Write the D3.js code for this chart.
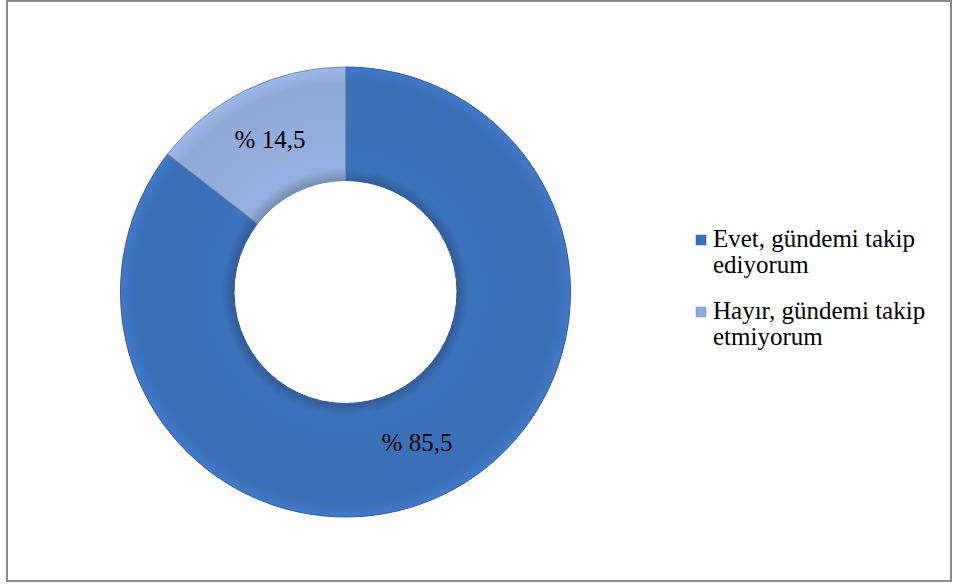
<!DOCTYPE html>
<html><head><meta charset="utf-8">
<script src="https://cdn.jsdelivr.net/npm/d3@7"></script>
<style>body{margin:0;background:#fff}svg{display:block}</style>
</head><body>
<script>
const categories = ["Evet, gündemi takip ediyorum", "Hayır, gündemi takip etmiyorum"];
const legendLines = [["Evet, gündemi takip", "ediyorum"], ["Hayır, gündemi takip", "etmiyorum"]];
const values = [85.5, 14.5];
const labels = ["% 85,5", "% 14,5"];
const colors = ["#3b6fb6", "#8faad6"];

const W = 956, H = 584;
const svg = d3.select("body").append("svg").attr("width", W).attr("height", H);
svg.append("rect").attr("x", 7).attr("y", 1).attr("width", 944).attr("height", 580)
  .attr("fill", "#fff").attr("stroke", "#8a8a8a").attr("stroke-width", 2);

const defs = svg.append("defs");
colors.forEach((c, i) => {
  const gr = defs.append("radialGradient").attr("id", "g" + i)
    .attr("gradientUnits", "userSpaceOnUse").attr("cx", 0).attr("cy", 0).attr("r", 225);
  const base = d3.color(c);
  gr.append("stop").attr("offset", "49%").attr("stop-color", base.darker(0.6));
  gr.append("stop").attr("offset", "55%").attr("stop-color", base.brighter(0.1));
  gr.append("stop").attr("offset", "93%").attr("stop-color", c);
  gr.append("stop").attr("offset", "100%").attr("stop-color", base.brighter(0.25));
});

const cx = 345.5, cy = 292, R = 225, r = 111.5;
const pie = d3.pie().sort(null).value(d => d)(values);
const arc = d3.arc().innerRadius(r).outerRadius(R);
const chart = svg.append("g").attr("transform", `translate(${cx},${cy})`);
chart.selectAll("path").data(pie).join("path")
  .attr("d", arc).attr("fill", (d, i) => `url(#g${i})`)
  .attr("stroke", (d, i) => d3.color(colors[i]).darker(0.6)).attr("stroke-width", 1);

const labelPos = [[417 - cx, 451 - cy], [270 - cx, 148 - cy]];
chart.selectAll("text.lbl").data(pie).join("text").attr("class", "lbl")
  .attr("x", (d, i) => labelPos[i][0]).attr("y", (d, i) => labelPos[i][1])
  .attr("text-anchor", "middle")
  .attr("font-family", "Liberation Serif").attr("font-size", 25)
  .attr("fill", "#000").text((d, i) => labels[i]);

const leg = svg.append("g");
categories.forEach((c, i) => {
  const y0 = 247 + i * 72;
  leg.append("rect").attr("x", 696).attr("y", y0 - 12).attr("width", 10).attr("height", 10)
    .attr("fill", colors[i]).attr("stroke", d3.color(colors[i]).darker(0.5)).attr("stroke-width", 0.5);
  legendLines[i].forEach((t, j) => {
    leg.append("text").attr("x", 713).attr("y", y0 + j * 26)
      .style("font-family", '"Liberation Serif"').attr("font-size", 25)
      .text(t);
  });
});
</script>
</body></html>
